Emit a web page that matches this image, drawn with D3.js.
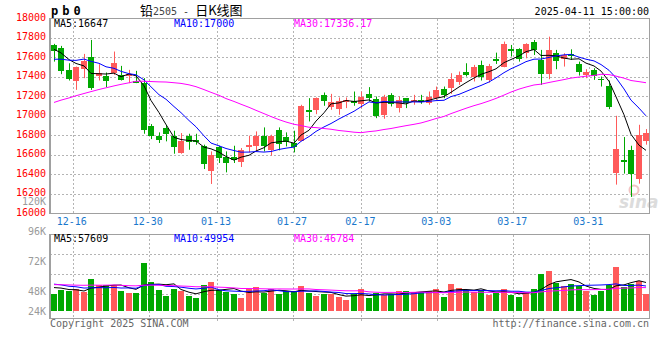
<!DOCTYPE html>
<html>
<head>
<meta http-equiv="Content-Type" content="text/html;charset=utf-8">
<title>pb0 日K线图</title>
<script src="https://d3js.org/d3.v7.min.js"></script>
<style type="text/css">
	body { margin: 0; background: #fff; }
	svg { display: block; font-family: "DejaVu Sans Mono", monospace; font-size: 10px; }
	.grid line { stroke: #b4b4b4; stroke-dasharray: 2,2; shape-rendering: crispEdges; }
	.frame { stroke: #a0a0a0; fill: none; shape-rendering: crispEdges; }
</style>
</head>
<body>
<svg width="660" height="360"></svg>
<script type="text/javascript">
// trading days shown (12-11 .. 04-11)
var dates = ["12-11","12-12","12-13","12-16","12-17","12-18","12-19","12-20","12-23","12-24",
	"12-25","12-26","12-27","12-30","12-31","01-02","01-03","01-06","01-07","01-08",
	"01-09","01-10","01-13","01-14","01-15","01-16","01-17","01-20","01-21","01-22",
	"01-23","01-24","01-27","02-05","02-06","02-07","02-10","02-11","02-12","02-13",
	"02-14","02-17","02-18","02-19","02-20","02-21","02-24","02-25","02-26","02-27",
	"02-28","03-03","03-04","03-05","03-06","03-07","03-10","03-11","03-12","03-13",
	"03-14","03-17","03-18","03-19","03-20","03-21","03-24","03-25","03-26","03-27",
	"03-28","03-31","04-01","04-02","04-03","04-07","04-08","04-09","04-10","04-11"];

var opens = [17729,17695,17473,17354,17480,17603,17412,17415,17446,17425,
	17412,17364,17337,16893,16798,16876,16798,16613,16798,16757,
	16688,16443,16678,16576,16576,16535,16678,16688,16791,16648,
	16859,16781,16723,16750,17057,17057,17217,17091,17070,17139,
	17156,17125,17224,17176,17013,17217,17088,17183,17139,17166,
	17139,17183,17278,17285,17354,17456,17405,17524,17377,17586,
	17500,17684,17688,17650,17763,17575,17432,17644,17582,17637,
	17534,17422,17473,17377,17309,16422,16552,16654,16358,16740];
var highs = [17740,17719,17541,17507,17637,17780,17531,17446,17661,17514,
	17473,17463,17388,16917,16832,16910,16849,16825,16818,16818,
	16706,16637,16695,16637,16695,16671,16798,16842,16883,16808,
	16883,16832,16849,17115,17183,17190,17241,17227,17190,17190,
	17251,17251,17296,17200,17217,17234,17200,17183,17217,17217,
	17251,17302,17302,17439,17456,17541,17524,17568,17534,17650,
	17763,17729,17695,17746,17780,17678,17814,17678,17644,17684,
	17558,17480,17490,17405,17364,17002,16784,16695,16910,16866];
var lows = [17558,17429,17364,17268,17388,17268,17364,17296,17422,17364,
	17337,17337,16818,16763,16723,16740,16613,16613,16654,16706,
	16456,16303,16518,16422,16518,16477,16627,16637,16637,16593,
	16648,16688,16627,16750,16944,17019,17105,17064,17013,17081,
	17105,17081,17149,16978,16972,17098,17036,17081,17115,17125,
	17115,17166,17183,17227,17319,17405,17354,17364,17343,17534,
	17500,17610,17558,17592,17626,17319,17377,17480,17507,17575,
	17415,17388,17371,17302,17070,16296,16409,16170,16306,16706];
var closes = [17671,17456,17377,17500,17565,17285,17439,17364,17545,17377,
	17432,17343,16852,16791,16757,16818,16688,16740,16740,16733,
	16501,16603,16569,16518,16545,16654,16698,16791,16688,16791,
	16712,16733,16682,17105,17036,17183,17159,17139,17156,17159,
	17132,17193,17183,17002,17193,17125,17166,17132,17159,17149,
	17200,17268,17217,17381,17422,17422,17507,17405,17517,17569,
	17739,17667,17586,17739,17678,17432,17678,17558,17626,17616,
	17456,17456,17412,17364,17091,16664,16532,16409,16808,16825];
var volumes = [35500,43700,41000,45100,39600,65600,52700,53300,53300,41000,
	37500,36900,98400,59500,43000,31400,45700,41000,31400,26700,
	53300,59500,42400,39600,35500,26700,45700,49200,36900,45100,
	35500,40400,39000,51900,37500,30800,34900,35500,28700,22600,
	34900,44500,27300,36300,32200,34900,41000,41000,39000,39600,
	41000,45700,29300,55400,47200,43000,39000,43000,33400,36900,
	45100,32800,28700,38300,45100,75900,82000,57400,51300,55400,
	51300,40400,32800,41600,53300,90200,49800,55400,61500,35500];

// sessions before 12-11 (estimated), only used for the moving averages
var priorCloses = [16750,16700,16820,16880,16700,16780,16850,16960,16900,16950,
	16880,16830,16900,16850,16870,16900,16950,17180,17300,17400,
	17450,17480,17520,17430,17520,17640,17720,17700,17690];
var priorVolumes = [48000,52000,61000,47000,55000,58000,50000,44000,63000,57000,
	49000,53000,60000,51000,46000,56000,62000,50000,54000,53000,
	58000,70000,55000,66000,61000,49000,56000,47000,52500];

var priceTicks = [16000,16200,16400,16600,16800,17000,17200,17400,17600,17800,18000];
var volTicks = [24000,48000,72000,96000,120000];
var dateLabels = ["12-16","12-30","01-13","01-27","02-17","03-03","03-17","03-31"];
var maPeriods = [5, 10, 30];
var maColors = ["#000000", "#0000ff", "#ff00ff"];
var priceLegend = ["MA5:16647", "MA10:17000", "MA30:17336.17"];
var volLegend = ["MA5:57609", "MA10:49954", "MA30:46784"];

var upColor = "#ff5a5a", downColor = "#00a800";

var svg = d3.select("svg");
var n = dates.length;

var x = d3.scaleBand().domain(d3.range(n)).range([50, 650]).paddingInner(0.2).paddingOuter(0.1);
var xg = d3.scaleLinear().domain([0, n - 1]).range([50, 650]);
var y = d3.scaleLinear().domain([16000, 18000]).range([213.5, 18.5]);
var vy = d3.scaleLinear().domain([0, 100000]).range([311, 262.2]);
var vgrid = d3.scaleLinear().domain([0, 96000]).range([314.5, 234.5]);
var vlab = d3.scaleLinear().domain([0, 120000]).range([351, 201]);

function left(i) { return Math.round(x(i)); }
function ma(prior, vals, p) {
	var all = prior.concat(vals);
	return vals.map(function (v, i) {
		var j = i + prior.length;
		return d3.mean(all.slice(j - p + 1, j + 1));
	});
}
var tickIdx = dateLabels.map(function (d) { return dates.indexOf(d); });

// ---- header
svg.append("text").attr("x", 51).attr("y", 15)
	.style("font-weight", "bold").style("font-size", "12px").style("letter-spacing", "4px")
	.text("pb0");
var title = svg.append("text").attr("x", 140).attr("y", 15);
title.append("tspan").style("font-family", "'Noto Sans CJK SC'").style("font-size", "13px").text("铅");
title.append("tspan").attr("fill", "#444").text("2505 -  ");
title.append("tspan").style("font-family", "'Noto Sans CJK SC'").style("font-size", "13px").text("日K线图");
svg.append("text").attr("x", 649).attr("y", 15).attr("text-anchor", "end")
	.text("2025-04-11 15:00:00");

// ---- price panel grid
var g = svg.append("g").attr("class", "grid");
g.selectAll("line.h").data(priceTicks.slice(1, -1)).enter().append("line")
	.attr("x1", 50).attr("x2", 650)
	.attr("y1", function (d) { return y(d); }).attr("y2", function (d) { return y(d); });
g.selectAll("line.v").data(tickIdx).enter().append("line")
	.attr("x1", function (d) { return Math.round(xg(d)) + 0.5; })
	.attr("x2", function (d) { return Math.round(xg(d)) + 0.5; })
	.attr("y1", 18.5).attr("y2", 213.5);

// volume panel grid
g.selectAll("line.vh").data([24000, 48000, 72000]).enter().append("line")
	.attr("x1", 50).attr("x2", 650)
	.attr("y1", function (d) { return vgrid(d); }).attr("y2", function (d) { return vgrid(d); });
g.selectAll("line.vv").data(tickIdx).enter().append("line")
	.attr("x1", function (d) { return Math.round(xg(d)) + 0.5; })
	.attr("x2", function (d) { return Math.round(xg(d)) + 0.5; })
	.attr("y1", 234.5).attr("y2", 323);

// sina watermark
svg.append("text").attr("x", 619).attr("y", 208)
	.style("font-family", "'DejaVu Sans'").style("font-size", "17px")
	.style("font-style", "italic").style("font-weight", "bold")
	.attr("fill", "#dcdcdc").text("sina");
svg.append("circle").attr("cx", 634).attr("cy", 190).attr("r", 4.5)
	.attr("fill", "none").attr("stroke", "#f3c4c4").attr("stroke-width", 2);

// ---- candles
var candles = svg.append("g").selectAll("g").data(d3.range(n)).enter().append("g");
candles.append("line")
	.attr("x1", function (i) { return left(i) + 3.5; })
	.attr("x2", function (i) { return left(i) + 3.5; })
	.attr("y1", function (i) { return y(highs[i]); })
	.attr("y2", function (i) { return y(lows[i]); })
	.attr("stroke", function (i) { return closes[i] >= opens[i] ? upColor : downColor; });
candles.append("rect")
	.attr("x", function (i) { return left(i); })
	.attr("width", x.bandwidth())
	.attr("y", function (i) { return Math.round(y(Math.max(opens[i], closes[i]))); })
	.attr("height", function (i) { return Math.max(1, Math.round(Math.abs(y(opens[i]) - y(closes[i])))); })
	.attr("fill", function (i) { return closes[i] >= opens[i] ? upColor : downColor; })
	.attr("shape-rendering", "crispEdges");

// price moving averages
maPeriods.forEach(function (p, k) {
	var vals = ma(priorCloses, closes, p);
	svg.append("path").datum(vals)
		.attr("fill", "none").attr("stroke", maColors[k]).attr("stroke-width", 1)
		.attr("d", d3.line().x(function (d, i) { return left(i) + 3; }).y(function (d) { return y(d); }));
});

// ---- volume bars
svg.append("g").selectAll("rect").data(d3.range(n)).enter().append("rect")
	.attr("x", function (i) { return left(i); })
	.attr("width", x.bandwidth())
	.attr("y", function (i) { return Math.round(vy(volumes[i])); })
	.attr("height", function (i) { return 311 - Math.round(vy(volumes[i])); })
	.attr("fill", function (i) { return closes[i] >= opens[i] ? upColor : downColor; })
	.attr("shape-rendering", "crispEdges");
maPeriods.forEach(function (p, k) {
	var vals = ma(priorVolumes, volumes, p);
	svg.append("path").datum(vals)
		.attr("fill", "none").attr("stroke", maColors[k]).attr("stroke-width", 1)
		.attr("d", d3.line().x(function (d, i) { return left(i) + 3; }).y(function (d) { return vy(d); }));
});

// ---- frames
svg.append("path").attr("class", "frame").attr("stroke-width", 1.5)
	.attr("d", "M50,18.5H649.5V213.5H50Z");
svg.append("path").attr("class", "frame").attr("stroke-width", 1.5)
	.attr("d", "M50,234.5H649.5V318.5H50Z");

// ---- axis labels
svg.append("g").selectAll("text").data(priceTicks).enter().append("text")
	.attr("x", 46).attr("y", function (d) { return y(d) + 2; })
	.attr("text-anchor", "end").attr("fill", "#ff0000")
	.text(function (d) { return d; });
svg.append("g").selectAll("text").data(volTicks).enter().append("text")
	.attr("x", 46).attr("y", function (d) { return Math.min(vlab(d), 311) + 3.8; })
	.attr("text-anchor", "end").attr("fill", "#9a9a9a")
	.text(function (d) { return d / 1000 + "K"; });
svg.append("g").selectAll("text").data(tickIdx).enter().append("text")
	.attr("x", function (d) { return xg(d) - 1; }).attr("y", 225)
	.attr("text-anchor", "middle").attr("fill", "#1a78cc")
	.text(function (d) { return dates[d]; });

// ---- legends
[priceLegend, volLegend].forEach(function (leg, r) {
	svg.append("g").selectAll("text").data(leg).enter().append("text")
		.attr("x", function (d, k) { return 54 + k * 120; })
		.attr("y", r === 0 ? 27 : 242)
		.attr("fill", function (d, k) { return maColors[k]; })
		.text(function (d) { return d; });
});

// ---- footer
svg.append("text").attr("x", 50).attr("y", 327).attr("fill", "#666")
	.text("Copyright 2025 SINA.COM");
svg.append("text").attr("x", 649).attr("y", 327).attr("text-anchor", "end").attr("fill", "#666")
	.text("http://finance.sina.com.cn");
</script>
</body>
</html>
